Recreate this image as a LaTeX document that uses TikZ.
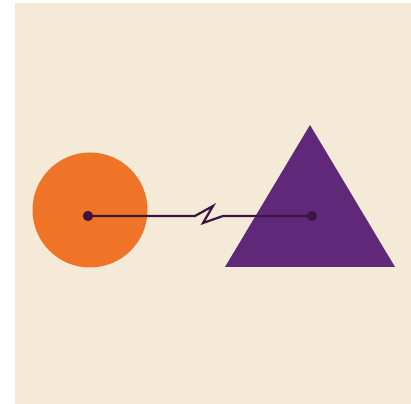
\documentclass[tikz,border=0pt]{standalone}
\usetikzlibrary{positioning}
\definecolor{cream}{RGB}{245,234,216}
\definecolor{orng}{RGB}{240,116,40}
\definecolor{plum}{RGB}{95,40,120}
\definecolor{ink}{RGB}{62,20,64}

\begin{document}
\begin{tikzpicture}[x=0.03cm, y=-0.03cm,
  dot/.style={circle,fill=ink,inner sep=0pt,minimum size=0.31cm},
  wire/.style={draw=ink,line width=1.9pt,line join=miter}]
  \useasboundingbox (0,0) rectangle (411,404);
  \fill[white] (0,0) rectangle (411,404);
  \fill[cream] (15,3) rectangle (411,404);
  % shapes
  \node[circle,fill=orng,inner sep=0pt,minimum size=3.45cm] (disc) at (90,210) {};
  \fill[plum] (310,125) -- (395,267) -- (225,267) -- cycle;
  % dots and link
  \node[dot] (left) at (88,216) {};
  \node[dot] (right) at (312,216) {};
  \coordinate (k1) at (195,216);
  \coordinate (k2) at (213,206);
  \coordinate (k3) at (203,223);
  \coordinate (k4) at (223,216);
  \draw[wire] (left.center)--(k1)--(k2)--(k3)--(k4)--(right.center);
\end{tikzpicture}
\end{document}
